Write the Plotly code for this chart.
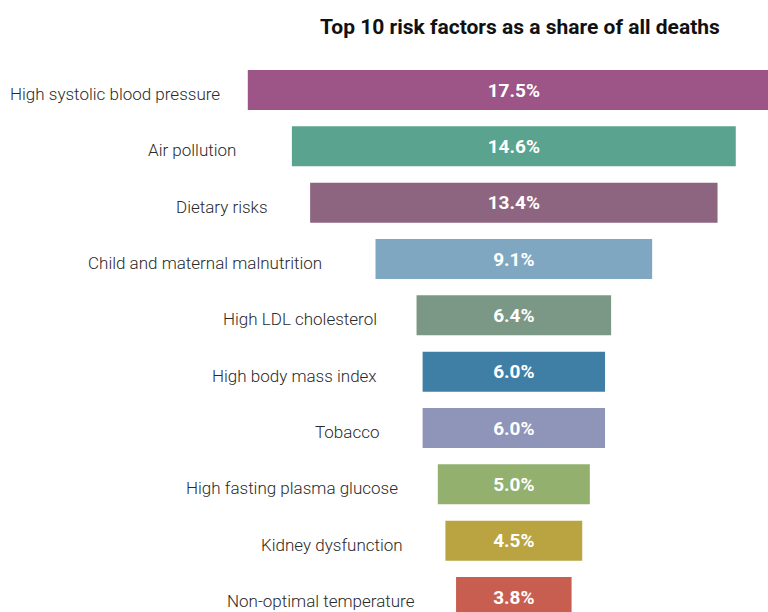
import plotly.graph_objects as go

# Risk factors and their share of all deaths (%)
risk_factors = [
    "High systolic blood pressure",
    "Air pollution",
    "Dietary risks",
    "Child and maternal malnutrition",
    "High LDL cholesterol",
    "High body mass index",
    "Tobacco",
    "High fasting plasma glucose",
    "Kidney dysfunction",
    "Non-optimal temperature",
]
share_of_deaths = [17.5, 14.6, 13.4, 9.1, 6.4, 6.0, 6.0, 5.0, 4.5, 3.8]
bar_colors = [
    "#9C5586", "#5AA38F", "#8E6580", "#80A7C2", "#7B9886",
    "#3F7FA6", "#8F94B9", "#93B06F", "#B9A441", "#C75E4F",
]

LABEL_FONT = "Roboto, Liberation Sans, sans-serif"

# gap (px) between each category label and the left end of its bar
label_gaps = [26, 54, 40, 51, 38, 44, 42, 38, 40, 39]

ypos = list(range(len(risk_factors)))

fig = go.Figure()
fig.add_trace(go.Bar(
    y=ypos,
    x=share_of_deaths,
    base=[-v / 2 for v in share_of_deaths],
    orientation="h",
    width=0.71,
    marker=dict(color=bar_colors, line=dict(width=0)),
    text=[f"{v:.1f}%" for v in share_of_deaths],
    textposition="inside",
    insidetextanchor="middle",
    textangle=0,
    textfont=dict(family=LABEL_FONT, size=19, color="white", weight="bold"),
    hoverinfo="skip",
))

for i, (name, v) in enumerate(zip(risk_factors, share_of_deaths)):
    fig.add_annotation(
        x=-v / 2, y=i, xref="x", yref="y",
        text=name, showarrow=False,
        xanchor="right", yanchor="middle",
        xshift=-label_gaps[i], yshift=-4,
        font=dict(family=LABEL_FONT, size=17, color="#2a2a2a", weight=300),
    )

fig.update_layout(
    width=768, height=612,
    margin=dict(l=0, r=0, t=0, b=0),
    paper_bgcolor="white", plot_bgcolor="white",
    showlegend=False,
    title=dict(
        text="<b>Top 10 risk factors as a share of all deaths</b>",
        x=0.677, xanchor="center", y=0.956, yanchor="middle",
        font=dict(family=LABEL_FONT, size=21, color="#111111"),
    ),
    xaxis=dict(range=[-16.9, 8.36], visible=False, fixedrange=True),
    yaxis=dict(range=[9.266, -1.598], visible=False, fixedrange=True),
)

fig.write_html("out.html")
